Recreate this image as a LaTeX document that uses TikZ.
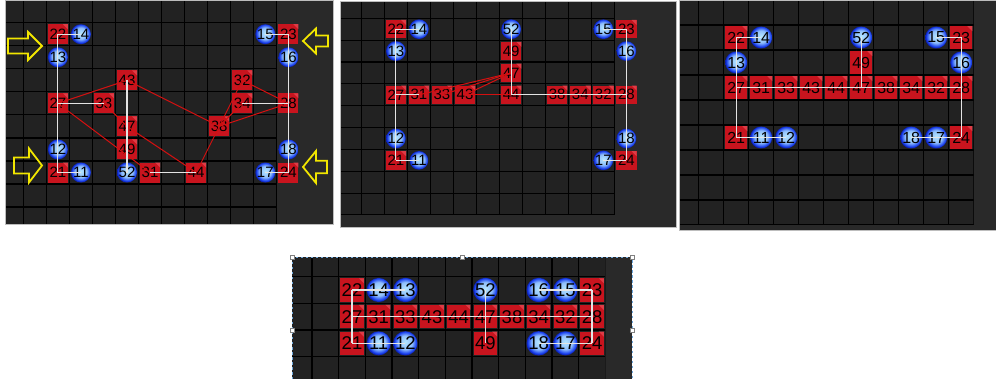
\documentclass[tikz,border=0pt]{standalone}
\usepackage{fontspec}
\setmainfont{Liberation Sans}
\usetikzlibrary{positioning}
\definecolor{cellgray}{HTML}{222222}
\definecolor{plaingray}{HTML}{292929}
\definecolor{framegray}{HTML}{BDBDBD}
\definecolor{sqred}{HTML}{C8141E}
\definecolor{sqlight}{HTML}{DE3C46}
\definecolor{dotin}{HTML}{B4E6FF}
\definecolor{dotout}{HTML}{1E46F0}
\definecolor{dotrim}{HTML}{0A1EB4}
\definecolor{wire}{HTML}{E4E4E4}
\definecolor{redwire}{HTML}{D41010}
\definecolor{hint}{HTML}{F2E600}
\definecolor{selblue}{HTML}{6FA8DC}
\pgfdeclareradialshading{glassdot}{\pgfpoint{0bp}{3bp}}{color(0bp)=(dotin);
  color(14bp)=(dotin!75!dotout); color(22bp)=(dotout); color(25bp)=(dotrim); color(50bp)=(dotrim)}

\begin{document}
\begin{tikzpicture}[x=1pt,y=-1pt,
  redsq/.style={rectangle,fill=sqred,inner sep=0pt,text=black,
    path picture={\fill[sqlight] ([xshift=-5pt]path picture bounding box.north east)
      -- (path picture bounding box.north east)
      -- ([yshift=-5pt]path picture bounding box.north east) -- cycle;}},
  bluedot/.style={circle,inner sep=0pt,text=black,shading=glassdot},
  wline/.style={draw=wire,line width=1.2pt},
  rline/.style={draw=redwire,line width=1pt},
  gridline/.style={draw=black,line width=1.2pt},
  hintarrow/.style={draw=hint,line width=1.8pt,line join=miter},
  handle/.style={draw=gray,fill=white,inner sep=0pt,minimum size=4pt,line width=0.5pt}
]
\useasboundingbox (0,0) rectangle (996,379);
\fill[white] (0,0) rectangle (996,379);

% boards: origin, cell size, grid area, panel corner
\foreach \ox/\oy/\cw/\ch/\gx/\gy/\gr/\gb/\pr/\pb in {
  0.25/-0.35/23.05/23.05/5/0/276.85/224/333/224,
  338.25/-3.56/23.05/21.86/340/1/614.85/215/676/227,
  673.7/0/25/25/679/0/973.7/225/996/230,
  285.33/250/26.67/26.67/292/257/605.4/379/632/379}
{
  \fill[plaingray] (\gx,\gy) rectangle (\pr,\pb);
  \fill[cellgray] (\gx,\gy) rectangle (\gr,\gb);
  \begin{scope}
    \clip (\gx,\gy) rectangle (\gr,\gb);
    \foreach \k in {1,...,12} \draw[gridline] (\ox+\k*\cw,\gy) -- (\ox+\k*\cw,\gb);
    \foreach \k in {1,...,10} \draw[gridline] (\gx,\oy+\k*\ch) -- (\gr,\oy+\k*\ch);
  \end{scope}
}
\draw[framegray,line width=0.8pt] (5,0) rectangle (333,224);
\draw[framegray,line width=0.8pt] (340,1) rectangle (676,227);
\draw[framegray,line width=0.8pt] (679,0) rectangle (996,230);

% first board
\begin{scope}[shift={(0.25,-0.35)},x=23.05pt,y=-23.05pt,
  redsq/.append style={minimum size=20pt,font=\fontsize{15}{15}\selectfont},
  bluedot/.append style={minimum size=20pt,font=\fontsize{15}{15}\selectfont}]
  \foreach \t/\c/\r in {22/2/1,23/12/1,43/5/3,32/10/3,27/2/4,33/4/4,34/10/4,28/12/4,
    47/5/5,38/9/5,49/5/6,21/2/7,31/6/7,44/8/7,24/12/7}
    \node[redsq] (a\t) at (\c+0.5,\r+0.5) {\t};
  \foreach \t/\c/\r in {14/3/1,15/11/1,13/2/2,16/12/2,12/2/6,18/12/6,11/3/7,52/5/7,17/11/7}
    \node[bluedot] (a\t) at (\c+0.5,\r+0.5) {\t};
  \foreach \u/\v in {27/43,43/38,27/31,33/47,47/44,38/44,38/32,38/34,38/28,32/28}
    \draw[rline] (a\u.center) -- (a\v.center);
  \foreach \u/\v in {22/14,22/21,21/11,27/33,43/52,31/44,15/23,23/24,17/24,34/28}
    \draw[wline] (a\u.center) -- (a\v.center);
\end{scope}

% second board
\begin{scope}[shift={(338.25,-3.56)},x=23.05pt,y=-21.86pt,
  redsq/.append style={minimum width=20.5pt,minimum height=18.5pt,font=\fontsize{15}{15}\selectfont},
  bluedot/.append style={minimum size=18.5pt,font=\fontsize{15}{15}\selectfont}]
  \foreach \t/\c/\r in {22/2/1,23/12/1,49/7/2,47/7/3,27/2/4,31/3/4,33/4/4,43/5/4,44/7/4,
    38/9/4,34/10/4,32/11/4,28/12/4,21/2/7,24/12/7}
    \node[redsq] (b\t) at (\c+0.5,\r+0.5) {\t};
  \foreach \t/\c/\r in {14/3/1,52/7/1,15/11/1,13/2/2,16/12/2,12/2/6,18/12/6,11/3/7,17/11/7}
    \node[bluedot] (b\t) at (\c+0.5,\r+0.5) {\t};
  \foreach \u/\v in {47/31,47/33,47/43,43/44}
    \draw[rline] (b\u.center) -- (b\v.center);
  \foreach \u/\v in {22/14,22/21,21/11,15/23,23/24,17/24,52/44,27/31,44/28}
    \draw[wline] (b\u.center) -- (b\v.center);
\end{scope}

% third board
\begin{scope}[shift={(673.7,0)},x=25pt,y=-25pt,
  redsq/.append style={minimum size=22.5pt,font=\fontsize{16}{16}\selectfont},
  bluedot/.append style={minimum size=22pt,font=\fontsize{16}{16}\selectfont}]
  \foreach \t/\c/\r in {22/2/1,23/11/1,49/7/2,27/2/3,31/3/3,33/4/3,43/5/3,44/6/3,47/7/3,
    38/8/3,34/9/3,32/10/3,28/11/3,21/2/5,24/11/5}
    \node[redsq] (c\t) at (\c+0.5,\r+0.5) {\t};
  \foreach \t/\c/\r in {14/3/1,52/7/1,15/10/1,13/2/2,16/11/2,11/3/5,12/4/5,18/9/5,17/10/5}
    \node[bluedot] (c\t) at (\c+0.5,\r+0.5) {\t};
  \foreach \u/\v in {22/14,22/21,21/12,27/28,52/47,15/23,23/24,18/24}
    \draw[wline] (c\u.center) -- (c\v.center);
\end{scope}

% fourth board
\begin{scope}[shift={(285.33,250)},x=26.67pt,y=-26.67pt,
  redsq/.append style={minimum size=23.5pt,font=\fontsize{18.5}{18.5}\selectfont},
  bluedot/.append style={minimum size=24pt,font=\fontsize{18.5}{18.5}\selectfont}]
  \foreach \t/\c/\r in {22/2/1,23/11/1,27/2/2,31/3/2,33/4/2,43/5/2,44/6/2,47/7/2,38/8/2,
    34/9/2,32/10/2,28/11/2,21/2/3,49/7/3,24/11/3}
    \node[redsq] (d\t) at (\c+0.5,\r+0.5) {\t};
  \foreach \t/\c/\r in {14/3/1,13/4/1,52/7/1,16/9/1,15/10/1,11/3/3,12/4/3,18/9/3,17/10/3}
    \node[bluedot] (d\t) at (\c+0.5,\r+0.5) {\t};
  \foreach \u/\v in {22/13,22/21,21/12,27/28,52/49,16/23,23/24,18/24}
    \draw[wline] (d\u.center) -- (d\v.center);
\end{scope}

% yellow hint arrows: tip, head length, shaft length, half heights
\foreach \tx/\ty/\h/\b/\hh/\sh in {42/46/14/20/14/7.5, 42/165.5/13/15/17/8,
  303/41/-13/-12/12.5/5.5, 303/167/-13/-11/16/6.3}
  \draw[hintarrow] (\tx,\ty) -- ++({-(\h)},{-(\hh)}) -- ++(0,{\hh-\sh}) -- ++({-(\b)},0)
    -- ++(0,{2*\sh}) -- ++(\b,0) -- ++(0,{\hh-\sh}) -- cycle;

% selection frame
\draw[selblue,line width=0.9pt,dash pattern=on 2.5pt off 2.5pt] (292,257) rectangle (632,390);
\foreach \x/\y [count=\i] in {292/257,462/257,632/257,292/330,632/330}
  \node[handle] (h\i) at (\x,\y) {};
\end{tikzpicture}
\end{document}
